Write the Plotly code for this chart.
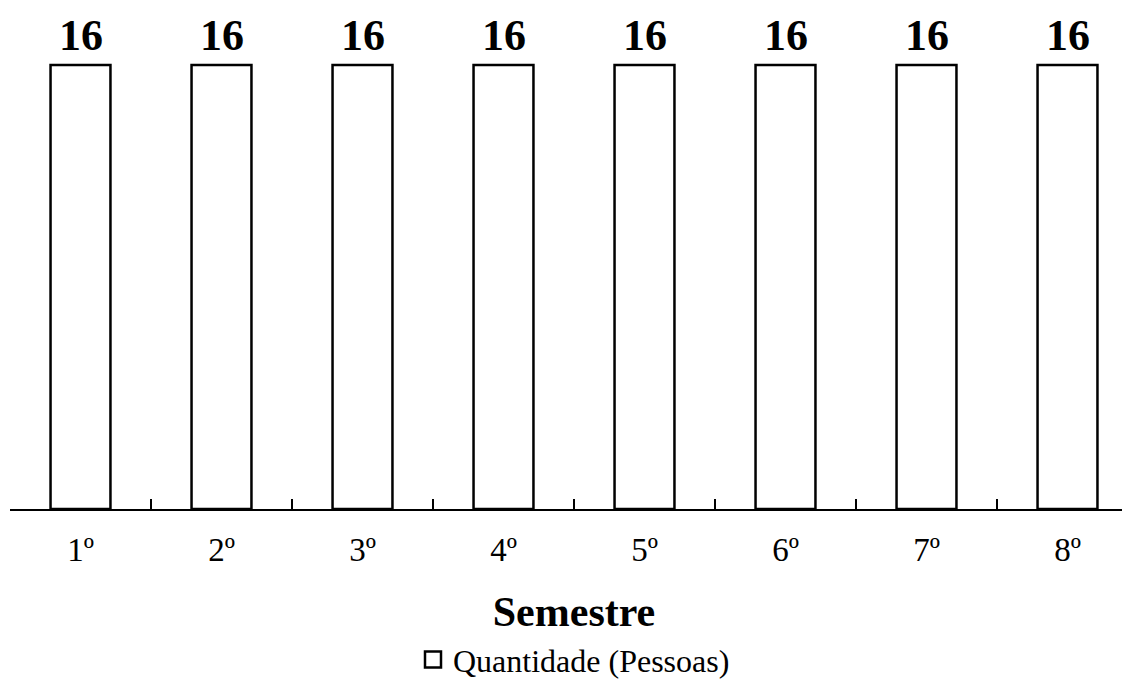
import plotly.graph_objects as go

categorias = ["1º", "2º", "3º", "4º", "5º", "6º", "7º", "8º"]
quantidade = [16, 16, 16, 16, 16, 16, 16, 16]
serie_nome = "Quantidade (Pessoas)"

FONT = "Liberation Serif"

fig = go.Figure()
fig.add_trace(go.Bar(
    x=categorias,
    y=quantidade,
    name=serie_nome,
    width=0.425,
    marker=dict(color="white", line=dict(color="black", width=2.5)),
    showlegend=False,
))
# legend entry (open square marker like the reference legend)
fig.add_trace(go.Scatter(
    x=[None], y=[None], mode="markers", name=serie_nome,
    marker=dict(symbol="square-open", size=16, color="black", line=dict(width=2.5)),
    showlegend=True,
))

for c, v in zip(categorias, quantidade):
    fig.add_annotation(x=c, y=v, text="<b>%d</b>" % v, showarrow=False,
                       yanchor="bottom", yshift=3,
                       font=dict(family=FONT, size=44, color="black"))

fig.update_layout(
    width=1130, height=689,
    margin=dict(l=2, r=0, t=0, b=188),
    paper_bgcolor="white", plot_bgcolor="white",
    font=dict(family=FONT, color="black"),
    legend=dict(orientation="h", x=0.5, xanchor="center", y=-0.301, yanchor="middle",
                font=dict(family=FONT, size=32, color="black"),
                itemwidth=30, tracegroupgap=0),
    xaxis=dict(
        type="category",
        range=[-0.5, 7.5],
        tickson="boundaries",
        ticks="inside", ticklen=10, tickwidth=2, tickcolor="black",
        showline=True, linecolor="black", linewidth=2,
        showgrid=False, zeroline=False,
        ticklabelstandoff=10,
        tickfont=dict(family=FONT, size=33, color="black"),
        title=dict(text="<b>Semestre</b>", font=dict(family=FONT, size=42, color="black"), standoff=30),
    ),
    yaxis=dict(
        range=[0, 18.05],
        visible=False, showgrid=False, zeroline=False,
    ),
)

fig.write_html("out.html")
